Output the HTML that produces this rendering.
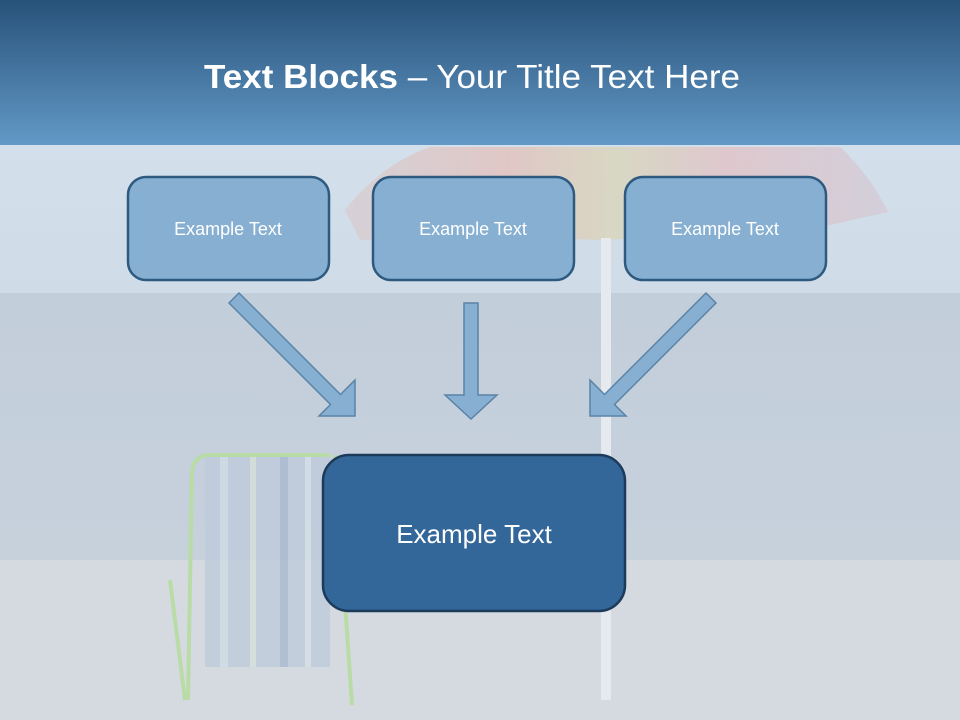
<!DOCTYPE html>
<html><head><meta charset="utf-8"><style>
html,body{margin:0;padding:0;width:960px;height:720px;overflow:hidden}
svg{display:block}
</style></head><body>
<svg width="960" height="720" viewBox="0 0 960 720" xmlns="http://www.w3.org/2000/svg" font-family="'Liberation Sans', sans-serif">
<defs>
<linearGradient id="hdr" x1="0" y1="0" x2="0" y2="1">
<stop offset="0" stop-color="#27527a"/><stop offset="1" stop-color="#6399c6"/>
</linearGradient>
<linearGradient id="sky" x1="0" y1="0" x2="0" y2="1">
<stop offset="0" stop-color="#d3dfea"/><stop offset="1" stop-color="#cfdbe7"/>
</linearGradient>
<linearGradient id="sea" x1="0" y1="0" x2="0" y2="1">
<stop offset="0" stop-color="#c3cedb"/><stop offset="1" stop-color="#c6d1dc"/>
</linearGradient>
<linearGradient id="umb" x1="0" y1="0" x2="1" y2="0">
<stop offset="0" stop-color="#d6cfd4"/><stop offset="0.3" stop-color="#e2c3bf"/><stop offset="0.5" stop-color="#d9d6bd"/><stop offset="0.7" stop-color="#e0c4c8"/><stop offset="1" stop-color="#d3ccd8"/>
</linearGradient>
</defs>
<rect width="960" height="720" fill="#d2d8df"/>
<rect y="145" width="960" height="148" fill="url(#sky)"/>
<rect y="293" width="960" height="267" fill="url(#sea)"/>
<rect y="560" width="960" height="160" fill="#d5dae0"/>
<!-- umbrella -->
<path d="M345 210 Q380 165 430 147 L840 147 Q870 175 888 212 L830 225 L700 236 L600 240 L480 236 L360 240 Z" fill="url(#umb)" opacity="0.85"/>
<rect x="601" y="238" width="10" height="462" fill="#e6eaee"/>
<!-- chair -->
<g opacity="0.8">
<rect x="205" y="455" width="125" height="212" fill="#bfccdc"/>
<rect x="220" y="455" width="8" height="212" fill="#cfdde6"/>
<rect x="250" y="455" width="6" height="212" fill="#d6e0d9"/>
<rect x="280" y="455" width="8" height="212" fill="#a9b9cf"/>
<rect x="305" y="455" width="6" height="212" fill="#d6e0e6"/>
</g>
<path d="M192 470 Q195 455 210 455 L330 455" stroke="#b9dca6" stroke-width="4" fill="none"/>
<line x1="192" y1="470" x2="188" y2="700" stroke="#b9dca6" stroke-width="4"/>
<line x1="335" y1="455" x2="352" y2="705" stroke="#b9dca6" stroke-width="4"/>
<line x1="170" y1="580" x2="185" y2="700" stroke="#b9dca6" stroke-width="4"/>
<!-- header -->
<rect width="960" height="145" fill="url(#hdr)"/>
<text x="472" y="88" text-anchor="middle" font-size="33" fill="#ffffff" textLength="536" lengthAdjust="spacingAndGlyphs"><tspan font-weight="bold">Text Blocks</tspan> – Your Title Text Here</text>
<!-- boxes -->
<g fill="#86afd2" stroke="#2e5a80" stroke-width="2.5">
<rect x="128" y="177" width="201" height="103" rx="18"/>
<rect x="373" y="177" width="201" height="103" rx="18"/>
<rect x="625" y="177" width="201" height="103" rx="18"/>
</g>
<g fill="#ffffff" font-size="18" text-anchor="middle">
<text x="228" y="235">Example Text</text>
<text x="473" y="235">Example Text</text>
<text x="725" y="235">Example Text</text>
</g>
<!-- arrows -->
<g fill="#86afd2" stroke="#5a83a8" stroke-width="1.5">
<polygon points="239,293 340.5,394.5 355,380 355,416 319,416 330.5,404.5 229,303"/>
<polygon points="706,293 604.5,394.5 590,380 590,416 626,416 614.5,404.5 716,303"/>
<polygon points="464,303 478,303 478,395 497,395 471,419 445,395 464,395"/>
</g>
<!-- big box -->
<rect x="323" y="455" width="302" height="156" rx="26" fill="#336699" stroke="#1c3a5a" stroke-width="2.5"/>
<text x="474" y="543" text-anchor="middle" font-size="26" fill="#ffffff">Example Text</text>
</svg>
</body></html>
